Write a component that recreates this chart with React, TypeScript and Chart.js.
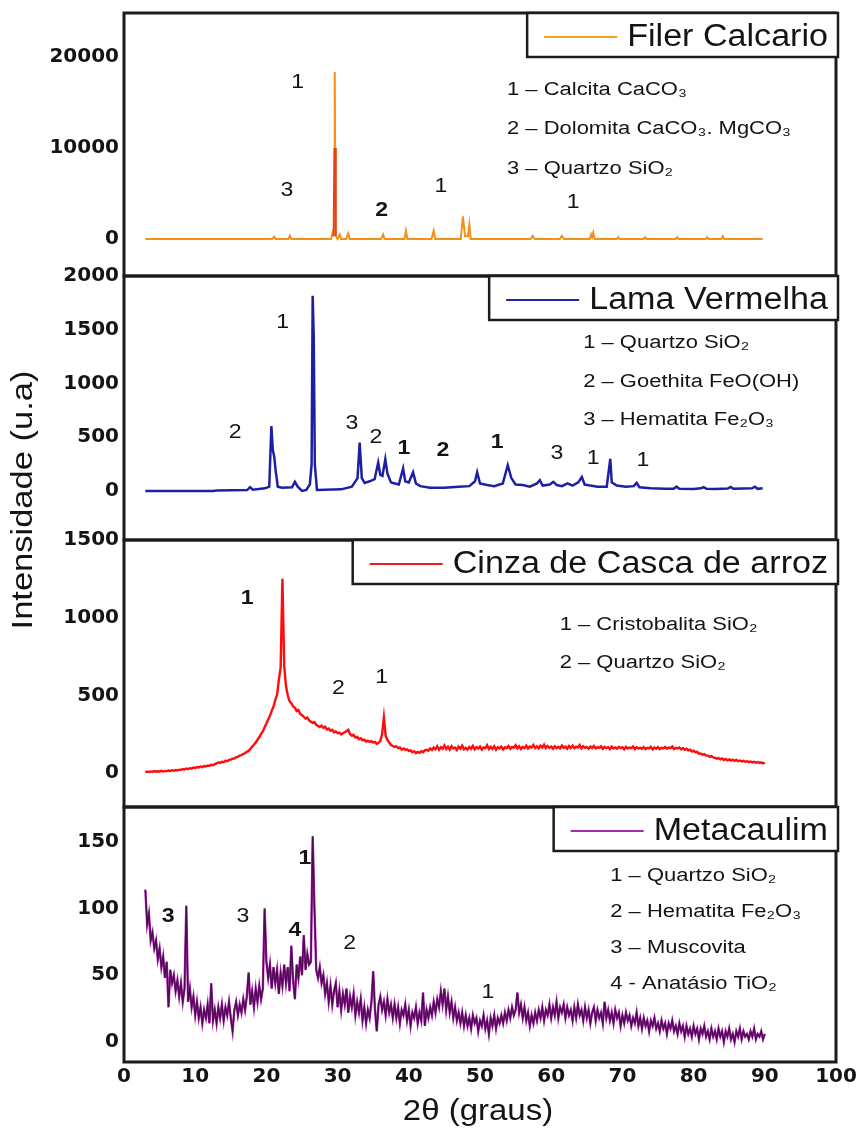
import { useEffect, useRef } from 'react';
import { Chart, registerables } from 'chart.js';

Chart.register(...registerables);

const W = 858;
const H = 1138;

// ---------------- data ----------------

// step scans (Cinza, Metacaulim) start at 3° and advance 0.25° per count
const SCAN_START = 3;
const SCAN_STEP = 0.25;

// Filer calcário: [2θ, intensidade]
const FILER_PATTERN: number[][] = [
  [3, 0], [20.8, 0], [21.1, 250], [21.3, 0], [23.1, 0], [23.3, 350], [23.5, 0],
  [29.1, 0], [29.3, 700], [29.45, 300], [29.55, 10000], [29.6, 18350], [29.65, 10000], [29.75, 300],
  [30.0, 0], [30.3, 500], [30.5, 0], [31.2, 0], [31.5, 600], [31.7, 0],
  [36.1, 0], [36.4, 500], [36.6, 0], [39.4, 0], [39.6, 900], [39.8, 0],
  [43.2, 0], [43.5, 900], [43.7, 0], [47.3, 0], [47.6, 2500], [47.9, 300], [48.3, 300], [48.5, 1600], [48.7, 0],
  [57.1, 0], [57.4, 350], [57.7, 0], [61.2, 0], [61.5, 350], [61.8, 0],
  [65.4, 0], [65.6, 500], [65.75, 200], [65.9, 700], [66.1, 0],
  [69.2, 0], [69.4, 200], [69.6, 0], [73.0, 0], [73.2, 200], [73.4, 0],
  [77.5, 0], [77.7, 200], [77.9, 0], [81.7, 0], [81.9, 200], [82.1, 0],
  [83.9, 0], [84.1, 300], [84.3, 0], [89.7, 0],
];

// Lama vermelha: [2θ, intensidade]
const LAMA_PATTERN: number[][] = [
  [3, 0], [12.5, 0], [13, 5], [17.3, 8], [17.7, 35], [18.1, 12], [19.8, 25], [20.4, 40],
  [20.7, 605], [20.9, 380], [21.1, 320], [21.3, 190], [21.6, 40], [22.2, 30], [23.6, 35], [24.0, 85], [24.4, 40],
  [25.0, 0], [25.6, 10], [26.1, 60], [26.35, 250], [26.5, 1817], [26.65, 1430], [26.8, 250], [27.1, 10],
  [30.5, 15], [32.0, 40], [32.8, 120], [33.1, 450], [33.4, 120], [33.8, 75], [34.5, 90], [35.2, 110],
  [35.7, 265], [36.0, 150], [36.3, 140], [36.7, 295], [37.0, 160], [37.5, 80], [38.6, 60],
  [39.2, 210], [39.5, 90], [40.0, 80], [40.6, 175], [41.0, 70], [41.6, 45], [43, 30], [45, 30],
  [47, 40], [48.5, 45], [49.3, 90], [49.6, 175], [50.0, 70], [51, 55], [52, 45], [53.2, 70],
  [53.9, 240], [54.4, 120], [55.0, 60], [56, 55], [57, 40], [58.0, 70], [58.4, 100], [58.8, 50],
  [59.8, 60], [60.3, 85], [60.8, 55], [61.5, 45], [62.3, 70], [63, 50], [63.8, 80], [64.3, 130],
  [64.7, 60], [65.5, 50], [66.5, 40], [67.8, 40], [68.3, 300], [68.5, 80], [69.2, 50], [70.5, 40],
  [71.6, 45], [72.0, 75], [72.4, 35], [74, 25], [76, 20], [77.2, 20], [77.6, 40], [78, 20],
  [80, 18], [81, 25], [81.4, 35], [81.8, 20], [83, 18], [84.8, 22], [85.2, 38], [85.6, 20],
  [87, 22], [88.2, 25], [88.6, 40], [89, 20], [89.7, 25],
];

// Cinza de casca de arroz: counts from 3° to 90° (one row = 5°)
const CINZA_COUNTS: number[] = [
  5, 9, 6, 10, 7, 12, 8, 11, 10, 14, 9, 13, 12, 16, 13, 18, 14, 19, 16, 21,
  20, 25, 22, 28, 25, 31, 28, 35, 32, 38, 36, 42, 38, 45, 42, 48, 46, 53, 50, 57,
  62, 68, 65, 72, 70, 78, 76, 84, 86, 92, 94, 102, 104, 112, 115, 122, 128, 136, 142, 155,
  170, 182, 196, 214, 230, 252, 268, 294, 318, 345, 368, 400, 428, 470, 505, 600, 680, 1250, 690, 560,
  500, 462, 450, 428, 420, 398, 405, 380, 372, 362, 350, 356, 338, 330, 322, 328, 310, 302, 296, 305,
  290, 298, 280, 286, 272, 278, 262, 268, 256, 260, 248, 256, 262, 270, 278, 250, 240, 246, 228, 232,
  218, 224, 210, 214, 202, 208, 200, 205, 196, 200, 188, 194, 206, 250, 358, 240, 212, 196, 180, 174,
  168, 172, 160, 164, 150, 158, 148, 152, 142, 146, 134, 140, 128, 136, 130, 140, 134, 146, 150, 144,
  158, 148, 164, 152, 172, 150, 166, 156, 178, 154, 168, 150, 172, 158, 164, 148, 170, 156, 176, 152,
  162, 150, 168, 156, 174, 152, 166, 158, 170, 150, 164, 160, 178, 154, 168, 156, 172, 150, 166, 158,
  170, 152, 166, 160, 174, 156, 168, 162, 178, 158, 172, 154, 168, 160, 176, 158, 170, 164, 180, 160,
  172, 158, 176, 164, 182, 160, 174, 162, 170, 156, 172, 160, 168, 158, 176, 162, 170, 156, 174, 160,
  176, 160, 170, 164, 180, 158, 172, 162, 168, 156, 170, 160, 174, 158, 166, 162, 172, 156, 168, 160,
  166, 154, 170, 158, 164, 156, 168, 160, 166, 152, 168, 158, 164, 160, 170, 154, 166, 158, 162, 156,
  166, 154, 162, 158, 168, 152, 164, 156, 166, 154, 162, 158, 168, 156, 164, 160, 170, 154, 162, 158,
  164, 152, 160, 150, 156, 146, 150, 138, 144, 134, 136, 124, 126, 118, 122, 112, 112, 104, 108, 100,
  98, 92, 96, 88, 94, 84, 90, 82, 88, 80, 86, 78, 84, 76, 80, 74, 78, 72, 76, 70,
  74, 68, 72, 66, 70, 64, 68, 62, 66,
];

// Metacaulim: counts from 3° to 90° (one row = 5°)
const META_COUNTS: number[] = [
  114, 88, 96, 76, 82, 70, 76, 62, 70, 56, 64, 48, 60, 26, 54, 44, 50, 38, 46, 34,
  44, 30, 40, 102, 30, 40, 26, 34, 20, 30, 18, 26, 14, 24, 18, 28, 14, 44, 16, 24,
  14, 26, 18, 28, 16, 26, 20, 30, 18, 8, 24, 30, 20, 28, 22, 32, 24, 34, 52, 28,
  38, 26, 40, 30, 42, 32, 40, 100, 60, 48, 58, 40, 56, 44, 54, 36, 52, 42, 58, 44,
  56, 38, 72, 46, 32, 58, 48, 64, 50, 80, 54, 66, 58, 60, 154, 100, 54, 48, 56, 44,
  50, 36, 44, 30, 42, 28, 38, 44, 26, 38, 24, 36, 28, 40, 22, 34, 26, 36, 20, 30,
  22, 32, 16, 26, 14, 24, 18, 30, 53, 24, 8, 28, 34, 24, 30, 20, 32, 22, 28, 18,
  28, 18, 26, 14, 24, 20, 28, 16, 24, 12, 22, 18, 26, 14, 22, 16, 37, 12, 24, 18,
  26, 20, 30, 22, 32, 26, 38, 28, 40, 24, 34, 22, 30, 18, 26, 16, 22, 14, 22, 12,
  20, 12, 18, 10, 20, 14, 18, 8, 16, 12, 20, 10, 16, 6, 18, 12, 20, 10, 18, 14,
  20, 14, 22, 16, 24, 18, 26, 20, 24, 37, 22, 28, 18, 26, 16, 22, 12, 20, 14, 22,
  16, 24, 18, 26, 16, 24, 20, 28, 18, 26, 20, 30, 18, 26, 22, 28, 18, 26, 20, 24,
  16, 26, 18, 28, 20, 24, 16, 26, 18, 24, 14, 22, 26, 16, 24, 18, 22, 14, 30, 18,
  24, 16, 22, 14, 24, 18, 22, 12, 20, 14, 22, 16, 20, 12, 18, 14, 22, 12, 18, 10,
  18, 12, 16, 8, 16, 12, 18, 10, 14, 8, 16, 10, 14, 6, 14, 10, 16, 8, 12, 6,
  14, 8, 12, 4, 12, 6, 10, 4, 12, 6, 10, 2, 10, 6, 12, 4, 8, 2, 10, 4,
  8, 2, 10, 4, 8, 0, 8, 4, 10, 2, 6, 0, 8, 4, 10, 2, 8, 4, 6, 2,
  8, 4, 10, 2, 6, 4, 8, 2, 6,
];

// intensity where the calcite reflection changes colour
const FILER_SPLIT = 10000;

const X_TICKS = [0, 10, 20, 30, 40, 50, 60, 70, 80, 90, 100];
const FILER_TICKS = [0, 10000, 20000];
const LAMA_TICKS = [0, 500, 1000, 1500, 2000];
const CINZA_TICKS = [0, 500, 1000, 1500];
const META_TICKS = [0, 50, 100, 150];

const FILER_PHASES = ['1 – Calcita CaCO₃', '2 – Dolomita CaCO₃. MgCO₃', '3 – Quartzo SiO₂'];
const LAMA_PHASES = ['1 – Quartzo SiO₂', '2 – Goethita FeO(OH)', '3 – Hematita Fe₂O₃'];
const CINZA_PHASES = ['1 – Cristobalita SiO₂', '2 – Quartzo SiO₂'];
const META_PHASES = ['1 – Quartzo SiO₂', '2 – Hematita Fe₂O₃', '3 – Muscovita', '4 - Anatásio TiO₂'];

// peak labels: [2θ, intensidade, texto, negrito]
const FILER_MARKS: [number, number, string, boolean][] = [
  [24.4, 17250, '1', false], [22.9, 5385, '3', false], [36.2, 3187, '2', true],
  [44.5, 5825, '1', false], [63.1, 4066, '1', false],
];
const LAMA_MARKS: [number, number, string, boolean][] = [
  [15.6, 549, '2', false], [22.3, 1572, '1', false], [32.0, 632, '3', false], [35.4, 502, '2', false],
  [39.3, 400, '1', true], [44.8, 381, '2', true], [52.4, 456, '1', true], [60.8, 353, '3', false],
  [65.9, 307, '1', false], [72.9, 288, '1', false],
];
const CINZA_MARKS: [number, number, string, boolean][] = [
  [17.3, 1127, '1', true], [30.1, 547, '2', false], [36.2, 618, '1', false],
];
const META_MARKS: [number, number, string, boolean][] = [
  [6.2, 94, '3', true], [16.7, 94, '3', false], [24.0, 84, '4', true],
  [25.4, 138, '1', true], [31.7, 74, '2', false], [51.1, 37, '1', false],
];

// ---------------- layout & style ----------------

const PLOT_TOP = 13;
const PLOT_RIGHT = 836;
const Y_AXIS_WIDTH = 124;
const X_AXIS_HEIGHT = 76;
const INK = '#141414';
const FRAME = '#1c1c1c';
const TICK_FONT = { family: "'DejaVu Sans'", size: 20, weight: 'bold' as const };
const TEXT_FAMILY = "'Liberation Sans', Arial, sans-serif";

const pairs = (list: number[][]) => list.map(([x, y]) => ({ x, y }));
const scan = (counts: number[]) => counts.map((y, i) => ({ x: SCAN_START + i * SCAN_STEP, y }));

type Panel = {
  id: string;
  name: string;
  legendColor: string;
  min: number;
  max: number;
  ticks: number[];
  weight: number;
  phases: string[];
  phaseAt: [number, number];
  phaseGap: number;
  marks: [number, number, string, boolean][];
};

const PANELS: Panel[] = [
  {
    id: 'yFiler', name: 'Filer Calcario', legendColor: '#F7A11A', min: -4066, max: 24835,
    ticks: FILER_TICKS, weight: 263, phases: FILER_PHASES, phaseAt: [53.8, 16375], phaseGap: 39.5, marks: FILER_MARKS,
  },
  {
    id: 'yLama', name: 'Lama Vermelha', legendColor: '#2024A8', min: -456, max: 2000,
    ticks: LAMA_TICKS, weight: 264, phases: LAMA_PHASES, phaseAt: [64.5, 1376], phaseGap: 38.5, marks: LAMA_MARKS,
  },
  {
    id: 'yCinza', name: 'Cinza de Casca de arroz', legendColor: '#F01818', min: -219, max: 1500,
    ticks: CINZA_TICKS, weight: 267, phases: CINZA_PHASES, phaseAt: [61.2, 953], phaseGap: 38, marks: CINZA_MARKS,
  },
  {
    id: 'yMeta', name: 'Metacaulim', legendColor: '#A82AAA', min: -15, max: 176,
    ticks: META_TICKS, weight: 255, phases: META_PHASES, phaseAt: [68.3, 124], phaseGap: 36, marks: META_MARKS,
  },
];

function drawText(
  ctx: CanvasRenderingContext2D, text: string, x: number, y: number,
  font: string, stretch: number, align: CanvasTextAlign, angle = 0,
) {
  ctx.save();
  ctx.translate(x, y);
  if (angle) ctx.rotate(angle);
  ctx.scale(stretch, 1);
  ctx.font = font;
  ctx.fillStyle = INK;
  ctx.textAlign = align;
  ctx.textBaseline = 'middle';
  ctx.fillText(text, 0, 0);
  ctx.restore();
}

const overlay = {
  id: 'xrdOverlay',
  afterDatasetsDraw(chart: any) {
    const { ctx, chartArea: area, scales } = chart;
    const xs = scales.x;
    const legendFont = `31px ${TEXT_FAMILY}`;
    const legendStretch = 1.1;
    PANELS.forEach((p) => {
      const ys = scales[p.id];
      ctx.save();
      ctx.strokeStyle = FRAME;
      ctx.lineWidth = 3;
      ctx.strokeRect(area.left, ys.top, area.right - area.left, ys.bottom - ys.top);
      ctx.restore();

      p.phases.forEach((t, i) => {
        drawText(ctx, t, xs.getPixelForValue(p.phaseAt[0]), ys.getPixelForValue(p.phaseAt[1]) + i * p.phaseGap,
          `18px ${TEXT_FAMILY}`, 1.22, 'left');
      });

      p.marks.forEach(([mx, my, label, bold]) => {
        drawText(ctx, label, xs.getPixelForValue(mx), ys.getPixelForValue(my),
          `${bold ? 'bold ' : ''}21px ${TEXT_FAMILY}`, 1.1, 'center');
      });

      ctx.save();
      ctx.font = legendFont;
      const tw = ctx.measureText(p.name).width * legendStretch;
      ctx.restore();
      const bw = 17 + 73 + 10 + tw + 10;
      const bh = 44;
      const bx = area.right + 2 - bw;
      const by = ys.top;
      ctx.save();
      ctx.fillStyle = '#ffffff';
      ctx.fillRect(bx, by, bw, bh);
      ctx.strokeStyle = FRAME;
      ctx.lineWidth = 2.5;
      ctx.strokeRect(bx, by, bw, bh);
      ctx.strokeStyle = p.legendColor;
      ctx.lineWidth = 2;
      ctx.beginPath();
      ctx.moveTo(bx + 17, by + bh / 2 + 2);
      ctx.lineTo(bx + 90, by + bh / 2 + 2);
      ctx.stroke();
      ctx.restore();
      drawText(ctx, p.name, bx + 100, by + bh / 2 + 2, legendFont, legendStretch, 'left');
    });

    drawText(ctx, '2θ (graus)', (area.left + area.right) / 2 - 2, 1112, `30px ${TEXT_FAMILY}`, 1.1, 'center');
    drawText(ctx, 'Intensidade (u.a)', 24, 500, `30px ${TEXT_FAMILY}`, 1.15, 'center', -Math.PI / 2);
  },
};

function buildConfig(): any {
  const noGrid = { display: false, drawTicks: false, tickLength: 0 };
  const scales: any = {
    x: {
      type: 'linear',
      position: 'bottom',
      min: 0,
      max: 100,
      grid: noGrid,
      border: { display: false },
      ticks: { font: TICK_FONT, color: INK, padding: 3, maxRotation: 0, autoSkip: false, callback: (v: number) => String(v) },
      afterBuildTicks: (s: any) => { s.ticks = X_TICKS.map((value) => ({ value })); },
      afterFit: (s: any) => { s.height = X_AXIS_HEIGHT; s.paddingLeft = 0; s.paddingRight = 0; },
    },
  };
  // stacked axes are placed top-down from the last one defined
  [...PANELS].reverse().forEach((p) => {
    scales[p.id] = {
      type: 'linear',
      position: 'left',
      stack: 'xrd',
      stackWeight: p.weight,
      min: p.min,
      max: p.max,
      grid: noGrid,
      border: { display: false },
      ticks: { font: TICK_FONT, color: INK, padding: 5, autoSkip: false, callback: (v: number) => String(v) },
      afterBuildTicks: (s: any) => { s.ticks = p.ticks.map((value) => ({ value })); },
      afterFit: (s: any) => { s.width = Y_AXIS_WIDTH; s.paddingTop = 0; s.paddingBottom = 0; },
    };
  });

  const line = { pointRadius: 0, tension: 0, fill: false, xAxisID: 'x' };
  const datasets = [
    {
      ...line,
      label: 'Filer Calcario',
      data: pairs(FILER_PATTERN),
      yAxisID: 'yFiler',
      borderColor: '#F29018',
      borderWidth: 2,
      segment: {
        borderColor: (c: any) => {
          const hi = Math.max(c.p0.parsed.y, c.p1.parsed.y);
          return hi === FILER_SPLIT ? '#E8420E' : undefined;
        },
      },
    },
    { ...line, label: 'Lama Vermelha', data: pairs(LAMA_PATTERN), yAxisID: 'yLama', borderColor: '#1E20A4', borderWidth: 2.5 },
    { ...line, label: 'Cinza de Casca de arroz', data: scan(CINZA_COUNTS), yAxisID: 'yCinza', borderColor: '#FF0C0C', borderWidth: 2.4 },
    { ...line, label: 'Metacaulim', data: scan(META_COUNTS), yAxisID: 'yMeta', borderColor: '#B02CB4', borderWidth: 2.4, order: 2 },
    { ...line, label: 'Metacaulim', data: scan(META_COUNTS), yAxisID: 'yMeta', borderColor: '#4E0A52', borderWidth: 1.4, order: 1 },
  ];

  return {
    type: 'line',
    data: { datasets },
    options: {
      animation: false,
      responsive: false,
      devicePixelRatio: 1,
      layout: { padding: { left: 0, right: W - PLOT_RIGHT, top: PLOT_TOP, bottom: 0 } },
      plugins: { legend: { display: false }, tooltip: { enabled: false } },
      scales,
    },
    plugins: [overlay],
  };
}

export default function App() {
  const ref = useRef<HTMLCanvasElement>(null);
  useEffect(() => {
    const chart = new Chart(ref.current as HTMLCanvasElement, buildConfig());
    return () => chart.destroy();
  }, []);
  return (
    <div style={{ position: 'absolute', left: 0, top: 0, width: W, height: H, background: '#ffffff' }}>
      <canvas ref={ref} width={W} height={H} style={{ display: 'block', width: W, height: H }} />
    </div>
  );
}
